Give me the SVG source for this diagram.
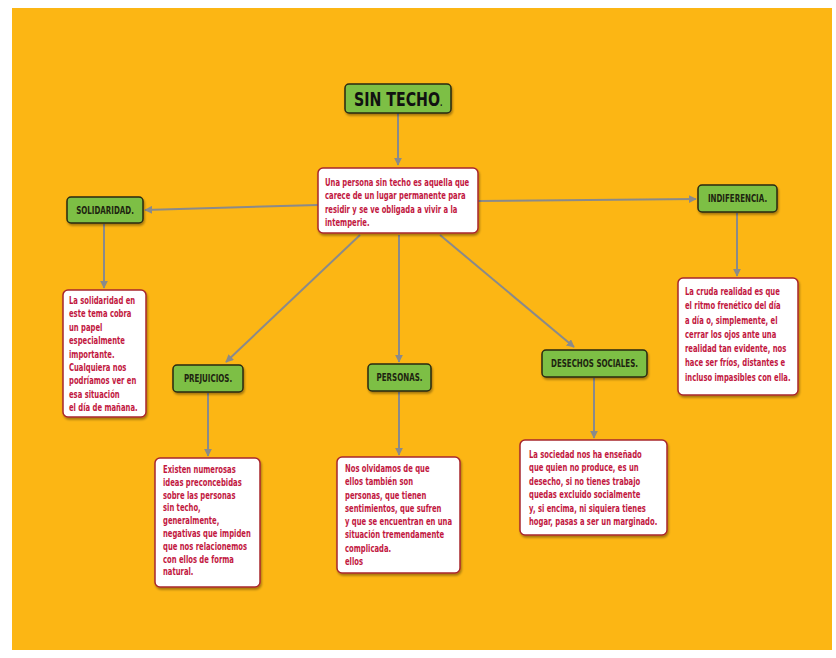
<svg xmlns="http://www.w3.org/2000/svg" width="836" height="658" viewBox="0 0 836 658">
<defs>
<marker id="ah" viewBox="0 0 10 10" refX="9" refY="5" markerWidth="4" markerHeight="4" orient="auto" markerUnits="strokeWidth"><path d="M0,0 L10,5 L0,10 z" fill="#8a8a8a"/></marker>
<filter id="sh" x="-10%" y="-10%" width="130%" height="140%"><feDropShadow dx="1" dy="2" stdDeviation="1.2" flood-color="#000" flood-opacity="0.35"/></filter>
</defs>
<style>
.node{fill:#7dbf44;stroke:#2a2a12;stroke-width:1.5;filter:url(#sh)}
.box{fill:#fff;stroke:#a8272d;stroke-width:1.5;filter:url(#sh)}
.lbl{font-family:"DejaVu Sans","Liberation Sans",sans-serif;font-weight:bold;font-size:10px;fill:#1e2410;text-anchor:middle}
.txt{font-family:"DejaVu Sans","Liberation Sans",sans-serif;font-weight:bold;font-size:10.5px;fill:#c2173f}
.con{stroke:#8a8a8a;stroke-width:2;fill:none;marker-end:url(#ah)}
</style>
<rect x="0" y="0" width="836" height="658" fill="#fff"/>
<rect x="12" y="8" width="820" height="642" fill="#fcb614"/>
<g id="connectors">
<line class="con" x1="398" y1="113" x2="398" y2="165"/>
<line class="con" x1="318" y1="205" x2="145" y2="210"/>
<line class="con" x1="478" y1="201" x2="696" y2="199"/>
<line class="con" x1="360" y1="235" x2="226" y2="362"/>
<line class="con" x1="399" y1="235" x2="399" y2="362"/>
<line class="con" x1="440" y1="235" x2="574" y2="347"/>
<line class="con" x1="104" y1="224" x2="104" y2="288"/>
<line class="con" x1="737" y1="213" x2="737" y2="276"/>
<line class="con" x1="208" y1="393" x2="208" y2="456"/>
<line class="con" x1="399" y1="392" x2="399" y2="455"/>
<line class="con" x1="594" y1="378" x2="594" y2="438"/>
</g>
<g id="sin-techo">
<rect class="node" x="345" y="84" width="106" height="29" rx="4"/>
<text transform="translate(354,106) scale(0.71,1)" x="0" y="0" style="font-family:'DejaVu Sans','Liberation Sans',sans-serif;font-weight:bold;font-size:20px;fill:#111">SIN TECHO<tspan font-size="9">.</tspan></text>
</g>
<g id="definicion">
<rect class="box" x="318" y="168" width="160" height="65" rx="5"/>
<g transform="translate(325,0) scale(0.65,1)">
<text class="txt" x="0" y="186">Una persona sin techo es aquella que</text>
<text class="txt" x="0" y="199.5">carece de un lugar permanente para</text>
<text class="txt" x="0" y="213">residir y se ve obligada a vivir a la</text>
<text class="txt" x="0" y="226.5">intemperie.</text>
</g>
</g>
<g id="solidaridad">
<rect class="node" x="67" y="197" width="76" height="26" rx="4"/>
<text class="lbl" transform="translate(105,213.5) scale(0.71,1)" x="0" y="0">SOLIDARIDAD.</text>
</g>
<g id="solidaridad-texto">
<rect class="box" x="63" y="290" width="83" height="127" rx="5"/>
<g transform="translate(69,0) scale(0.65,1)">
<text class="txt" x="0" y="304">La solidaridad en</text>
<text class="txt" x="0" y="317.4">este tema cobra</text>
<text class="txt" x="0" y="330.8">un papel</text>
<text class="txt" x="0" y="344.2">especialmente</text>
<text class="txt" x="0" y="357.6">importante.</text>
<text class="txt" x="0" y="371">Cualquiera nos</text>
<text class="txt" x="0" y="384.4">podríamos ver en</text>
<text class="txt" x="0" y="397.8">esa situación</text>
<text class="txt" x="0" y="411.2">el día de mañana.</text>
</g>
</g>
<g id="indiferencia">
<rect class="node" x="698" y="185" width="79" height="27" rx="4"/>
<text class="lbl" transform="translate(737.5,202) scale(0.71,1)" x="0" y="0">INDIFERENCIA.</text>
</g>
<g id="indiferencia-texto">
<rect class="box" x="678" y="278" width="120" height="117" rx="5"/>
<g transform="translate(685,0) scale(0.65,1)">
<text class="txt" x="0" y="295">La cruda realidad es que</text>
<text class="txt" x="0" y="309.3">el ritmo frenético del día</text>
<text class="txt" x="0" y="323.6">a día o, simplemente, el</text>
<text class="txt" x="0" y="337.9">cerrar los ojos ante una</text>
<text class="txt" x="0" y="352.2">realidad tan evidente, nos</text>
<text class="txt" x="0" y="366.5">hace ser fríos, distantes e</text>
<text class="txt" x="0" y="380.8">incluso impasibles con ella.</text>
</g>
</g>
<g id="prejuicios">
<rect class="node" x="173" y="365" width="70" height="27" rx="4"/>
<text class="lbl" transform="translate(208,382) scale(0.71,1)" x="0" y="0">PREJUICIOS.</text>
</g>
<g id="prejuicios-texto">
<rect class="box" x="155" y="458" width="105" height="129" rx="5"/>
<g transform="translate(163,0) scale(0.65,1)">
<text class="txt" x="0" y="473">Existen numerosas</text>
<text class="txt" x="0" y="485.8">ideas preconcebidas</text>
<text class="txt" x="0" y="498.6">sobre las personas</text>
<text class="txt" x="0" y="511.4">sin techo,</text>
<text class="txt" x="0" y="524.2">generalmente,</text>
<text class="txt" x="0" y="537">negativas que impiden</text>
<text class="txt" x="0" y="549.8">que nos relacionemos</text>
<text class="txt" x="0" y="562.6">con ellos de forma</text>
<text class="txt" x="0" y="575.4">natural.</text>
</g>
</g>
<g id="personas">
<rect class="node" x="368" y="364" width="63" height="27" rx="4"/>
<text class="lbl" transform="translate(399.5,381) scale(0.71,1)" x="0" y="0">PERSONAS.</text>
</g>
<g id="personas-texto">
<rect class="box" x="337" y="457" width="123" height="116" rx="5"/>
<g transform="translate(345,0) scale(0.65,1)">
<text class="txt" x="0" y="472">Nos olvidamos de que</text>
<text class="txt" x="0" y="485.3">ellos también son</text>
<text class="txt" x="0" y="498.6">personas, que tienen</text>
<text class="txt" x="0" y="511.9">sentimientos, que sufren</text>
<text class="txt" x="0" y="525.2">y que se encuentran en una</text>
<text class="txt" x="0" y="538.5">situación tremendamente</text>
<text class="txt" x="0" y="551.8">complicada.</text>
<text class="txt" x="0" y="565.1">ellos</text>
</g>
</g>
<g id="desechos">
<rect class="node" x="542" y="350" width="105" height="27" rx="4"/>
<text class="lbl" transform="translate(594.5,367) scale(0.71,1)" x="0" y="0">DESECHOS SOCIALES.</text>
</g>
<g id="desechos-texto">
<rect class="box" x="520" y="440" width="147" height="95" rx="5"/>
<g transform="translate(529,0) scale(0.65,1)">
<text class="txt" x="0" y="458">La sociedad nos ha enseñado</text>
<text class="txt" x="0" y="471.4">que quien no produce, es un</text>
<text class="txt" x="0" y="484.8">desecho, si no tienes trabajo</text>
<text class="txt" x="0" y="498.2">quedas excluido socialmente</text>
<text class="txt" x="0" y="511.6">y, si encima, ni siquiera tienes</text>
<text class="txt" x="0" y="525">hogar, pasas a ser un marginado.</text>
</g>
</g>
</svg>
